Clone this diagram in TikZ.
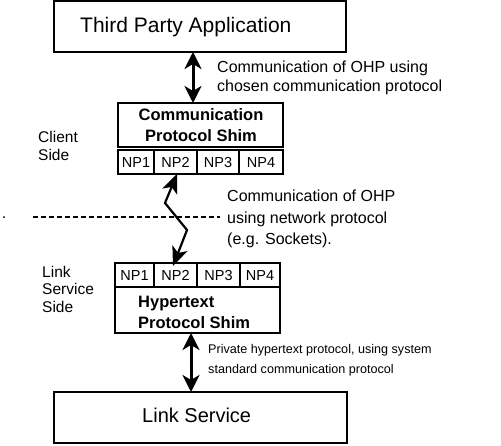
\documentclass[tikz,border=0pt]{standalone}
\usepackage{fontspec}
\setmainfont{Liberation Sans}
\usetikzlibrary{arrows.meta}
\begin{document}
\begin{tikzpicture}[x=1pt,y=-1pt,
  box/.style={draw,line width=1.3pt,inner sep=0pt,outer sep=0pt},
  cell/.style={draw,line width=1.1pt,inner sep=0pt,outer sep=0pt,minimum height=24pt,text height=10.5pt,text depth=0pt,font=\fontsize{14.5}{16}\selectfont},
  bigtxt/.style={inner sep=0pt,font=\fontsize{21}{24}\selectfont},
  shimtxt/.style={inner sep=0pt,font=\fontsize{16.5}{21}\selectfont\bfseries},
  lbl/.style={inner sep=0pt,align=left},
  dbl/.style={line width=3pt,{Stealth[length=17pt,width=17pt,inset=5pt]}-{Stealth[length=17pt,width=17pt,inset=5pt]}},
  zig/.style={line width=2.2pt,{Stealth[length=19pt,width=16pt,inset=5pt]}-{Stealth[length=19pt,width=16pt,inset=5pt]}}
]
\useasboundingbox (0,0) rectangle (501,446);
% top box
\node[box,minimum width=292pt,minimum height=51pt] (tpa) at (200,26.5) {};
\node[bigtxt,anchor=west] (tpat) at (80,27) {Third Party Application};
% communication protocol shim
\node[box,minimum width=165pt,minimum height=44pt] (cps) at (200.5,125) {};
\node[shimtxt,align=center] (cpst) at (201,125.5) {Communication\\Protocol Shim};
\node[cell,minimum width=36pt] (np1) at (136,162) {NP1};
\node[cell,minimum width=43pt] (np2) at (175.5,162) {NP2};
\node[cell,minimum width=42pt] (np3) at (218,162) {NP3};
\node[cell,minimum width=44pt] (np4) at (261,162) {NP4};
% hypertext protocol shim
\node[cell,minimum width=39pt] (hnp1) at (134.5,275) {NP1};
\node[cell,minimum width=43pt] (hnp2) at (175.5,275) {NP2};
\node[cell,minimum width=43pt] (hnp3) at (218.5,275) {NP3};
\node[cell,minimum width=40pt] (hnp4) at (260,275) {NP4};
\node[box,minimum width=165pt,minimum height=46pt] (hps) at (197.5,310) {};
\node[shimtxt,align=left,anchor=west] (hpst) at (138,312.5) {Hypertext\\Protocol Shim};
% link service
\node[box,minimum width=293pt,minimum height=51pt] (ls) at (200.5,417.5) {};
\node[inner sep=0pt,font=\fontsize{20}{24}\selectfont,anchor=west] (lst) at (142,415) {Link Service};
% side labels
\node[lbl,anchor=west,font=\fontsize{15.5}{18}\selectfont] (cs) at (38,146) {Client\\Side};
\node[lbl,anchor=west,font=\fontsize{15.5}{17.5}\selectfont] (lss) at (42,289) {Link\\Service\\Side};
\node[inner sep=0pt,font=\fontsize{16}{18}\selectfont] (dot) at (4,218) {.};
% dashed boundary
\coordinate (d1) at (33,217);
\coordinate (d2) at (220,217);
\draw[line width=1.8pt,dash pattern=on 5pt off 3pt] (d1) -- (d2);
% arrows
\coordinate (a1x) at (193,0);
\draw[dbl] (tpa.south -| a1x) -- (cps.north -| a1x);
\coordinate (k1) at (165,203);
\coordinate (k2) at (187,230);
\coordinate (zt) at (177,0);
\coordinate (zb) at (173,0);
\draw[zig] (np2.south -| zt) -- (k1) -- (k2) -- ([yshift=-3pt]hnp2.north -| zb);
\coordinate (a3x) at (191,0);
\draw[dbl] (hps.south -| a3x) -- (ls.north -| a3x);
% labels
\node[lbl,anchor=west,font=\fontsize{16}{19}\selectfont] (l1) at (217,78) {Communication of OHP using\\chosen communication protocol};
\node[lbl,anchor=west,font=\fontsize{16}{21.5}\selectfont] (l2) at (227,219) {Communication of OHP\\using network protocol\\(e.g. Sockets).};
\node[lbl,anchor=west,font=\fontsize{12.6}{20}\selectfont] (l3) at (208,360) {Private hypertext protocol, using system\\standard communication protocol};
\end{tikzpicture}
\end{document}
